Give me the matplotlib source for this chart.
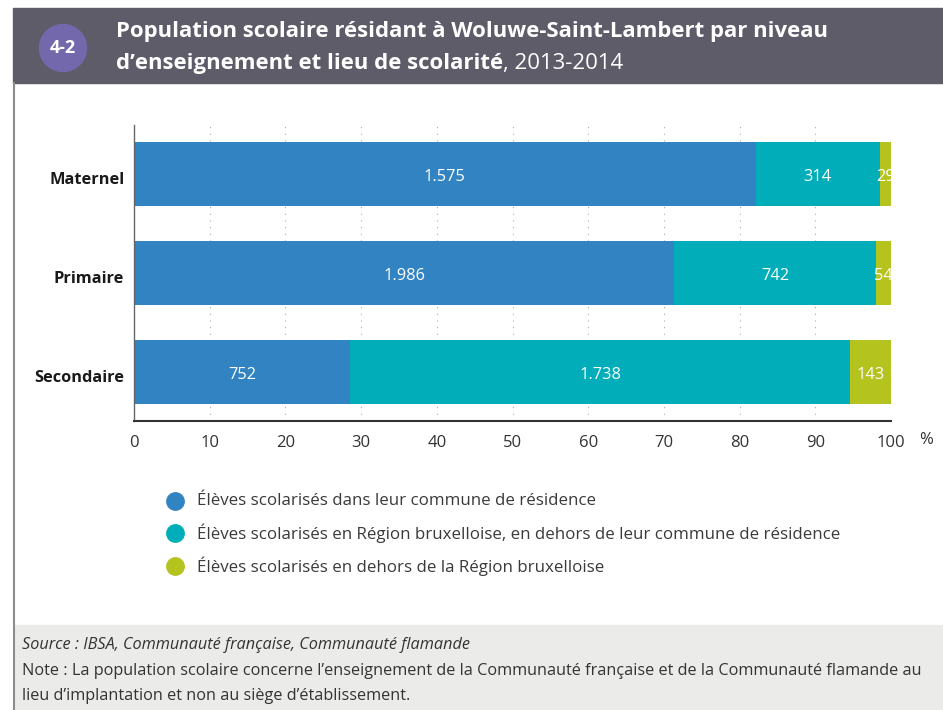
import matplotlib
matplotlib.use("Agg")
import matplotlib.pyplot as plt
from matplotlib.patches import Rectangle, Circle
import numpy as np

plt.rcParams['font.family'] = ['Open Sans', 'DejaVu Sans']

categories = ["Maternel", "Primaire", "Secondaire"]
commune = [1575, 1986, 752]
region = [314, 742, 1738]
hors_region = [29, 54, 143]
series_labels = [
    "Élèves scolarisés dans leur commune de résidence",
    "Élèves scolarisés en Région bruxelloise, en dehors de leur commune de résidence",
    "Élèves scolarisés en dehors de la Région bruxelloise",
]
colors = ["#3283c2", "#00adb9", "#b4c31e"]
xticks = [0, 10, 20, 30, 40, 50, 60, 70, 80, 90, 100]

W, H = 943, 710
fig = plt.figure(figsize=(W / 100, H / 100), dpi=100)

def fx(x):
    return x / W

def fy(y):
    return 1 - y / H

# header band
fig.patches.append(Rectangle((fx(13), fy(83)), 1, (83 - 8) / H, transform=fig.transFigure,
                             color="#5f5c6a", zorder=0))
# left border
fig.add_artist(plt.Line2D([fx(14), fx(14)], [fy(83), 0], transform=fig.transFigure,
                          color="#8c8c8c", lw=1.5))
# footer band
fig.patches.append(Rectangle((fx(15), 0), 1, (710 - 625) / H, transform=fig.transFigure,
                             color="#ebecea", zorder=0))
# circle badge
cax = fig.add_axes([fx(39), fy(72), 48 / W, 48 / H], zorder=5)
cax.set_xlim(-1, 1); cax.set_ylim(-1, 1); cax.axis("off")
cax.patch.set_alpha(0)
cax.add_patch(Circle((0, 0), 0.98, color="#7468ad"))
cax.text(0, 0.02, "4-2", color="white", fontsize=13, fontweight="bold", ha="center", va="center")

tsize = 15.9
fig.text(fx(116), fy(31), "Population scolaire résidant à Woluwe-Saint-Lambert par niveau",
         color="white", fontsize=tsize, fontweight="bold", va="center", ha="left")
t1 = fig.text(fx(116), fy(63), "d’enseignement et lieu de scolarité", color="white",
              fontsize=tsize, fontweight="bold", va="center", ha="left")
fig.canvas.draw()
bb = t1.get_window_extent()
fig.text(bb.x1 / W, fy(63), ", 2013-2014", color="white", fontsize=tsize, va="center", ha="left")

# main axes
ax = fig.add_axes([fx(134), fy(421), (891 - 134) / W, (421 - 125) / H])
data = np.array([commune, region, hors_region], dtype=float)
totals = data.sum(axis=0)
pct = data / totals * 100
y = np.arange(len(categories))
left = np.zeros(len(categories))
for i in range(3):
    ax.barh(y, pct[i], left=left, height=0.65, color=colors[i], zorder=2)
    for j in range(len(categories)):
        val = int(data[i, j])
        s = f"{val:,}".replace(",", ".")
        ax.text(left[j] + pct[i, j] / 2, y[j] + 0.03, s, color="white", fontsize=11.8,
                ha="center", va="center", zorder=3)
    left += pct[i]

ax.set_ylim(2.5, -0.5)
ax.set_xlim(0, 100)
ax.set_yticks(y + 0.04)
ax.set_yticklabels(categories, fontsize=11.8, fontweight="bold", color="#1a1a1a")
ax.set_xticks(xticks)
ax.set_xticklabels([str(t) for t in xticks], fontsize=12, color="#333333")
ax.tick_params(axis="both", length=0)
ax.tick_params(axis="x", pad=10)
ax.tick_params(axis="y", pad=7)
for s in ["top", "right"]:
    ax.spines[s].set_visible(False)
ax.spines["left"].set_color("#666666")
ax.spines["left"].set_linewidth(1)
ax.spines["bottom"].set_color("#333333")
ax.spines["bottom"].set_linewidth(1.5)
for t in xticks[1:]:
    ax.axvline(t, color="#aaaaaa", lw=0.8, ls=(0, (1, 5)), zorder=1)
fig.text(fx(926), fy(440), "%", fontsize=12, color="#333333", ha="center", va="center")

# legend
leg_y = [501, 533, 566]
for i in range(3):
    fig.add_artist(plt.Line2D([fx(175)], [fy(leg_y[i])], transform=fig.transFigure, marker="o",
                              markersize=12.5, color=colors[i], ls=""))
    fig.text(fx(197), fy(leg_y[i]), series_labels[i], fontsize=12.2, color="#3a3a3a",
             ha="left", va="center")

# footer
fsize = 11.7
fig.text(fx(22), fy(645), "Source : IBSA, Communauté française, Communauté flamande",
         fontsize=fsize, style="italic", color="#333333", va="center")
fig.text(fx(22), fy(671), "Note : La population scolaire concerne l’enseignement de la Communauté française et de la Communauté flamande au",
         fontsize=fsize, color="#333333", va="center")
fig.text(fx(22), fy(696), "lieu d’implantation et non au siège d’établissement.",
         fontsize=fsize, color="#333333", va="center")

fig.savefig("out.png", dpi=100)
